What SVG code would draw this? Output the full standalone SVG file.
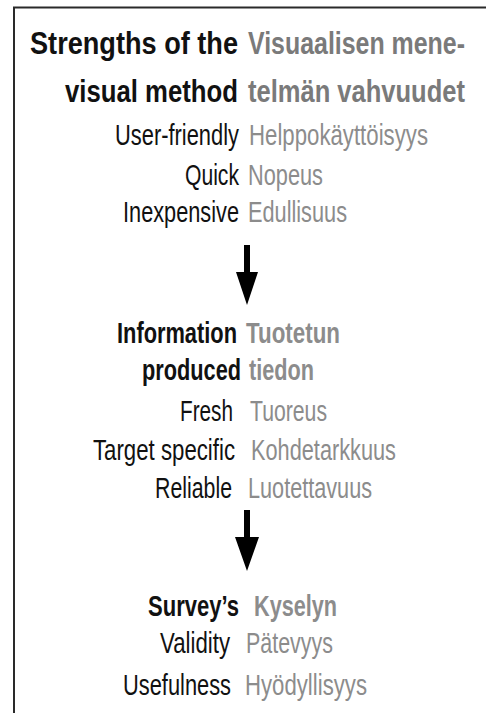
<svg xmlns="http://www.w3.org/2000/svg" width="486" height="713" viewBox="0 0 486 713">
<style>
text{font-family:"Liberation Sans Narrow","Liberation Sans",Arial,sans-serif;}
.t{font-size:31px;font-weight:bold;}
.b{font-size:30px;font-weight:bold;}
.r{font-size:29px;}
.k{fill:#111;text-anchor:end;}
.g{fill:#8c8c8c;}
.gt{fill:#7a7a7a;}
.frame{stroke:#2a2a2a;stroke-width:2;fill:none;}
.arrow{fill:#000;}
</style>
<rect x="0" y="0" width="486" height="713" fill="#fff"/>
<path class="frame" d="M14 713 V7.5 H486"/>
<g id="title">
<text class="t k" x="238" y="54" textLength="208" lengthAdjust="spacingAndGlyphs">Strengths of the</text>
<text class="t gt" x="248" y="54" textLength="217" lengthAdjust="spacingAndGlyphs">Visuaalisen mene-</text>
<text class="t k" x="238" y="102" textLength="173" lengthAdjust="spacingAndGlyphs">visual method</text>
<text class="t gt" x="248" y="102" textLength="217" lengthAdjust="spacingAndGlyphs">telmän vahvuudet</text>
</g>
<g id="strengths">
<text class="r k" x="239" y="145" textLength="124" lengthAdjust="spacingAndGlyphs">User-friendly</text>
<text class="r g" x="249" y="145" textLength="179" lengthAdjust="spacingAndGlyphs">Helppokäyttöisyys</text>
<text class="r k" x="239" y="185" textLength="54" lengthAdjust="spacingAndGlyphs">Quick</text>
<text class="r g" x="248" y="185" textLength="75" lengthAdjust="spacingAndGlyphs">Nopeus</text>
<text class="r k" x="239" y="222" textLength="116" lengthAdjust="spacingAndGlyphs">Inexpensive</text>
<text class="r g" x="248" y="222" textLength="99" lengthAdjust="spacingAndGlyphs">Edullisuus</text>
</g>
<g id="information">
<text class="b k" x="237" y="343" textLength="120" lengthAdjust="spacingAndGlyphs">Information</text>
<text class="b g" x="246" y="343" textLength="94" lengthAdjust="spacingAndGlyphs">Tuotetun</text>
<text class="b k" x="241" y="380" textLength="99" lengthAdjust="spacingAndGlyphs">produced</text>
<text class="b g" x="249" y="380" textLength="65" lengthAdjust="spacingAndGlyphs">tiedon</text>
<text class="r k" x="233" y="421" textLength="53" lengthAdjust="spacingAndGlyphs">Fresh</text>
<text class="r g" x="250" y="421" textLength="77" lengthAdjust="spacingAndGlyphs">Tuoreus</text>
<text class="r k" x="235" y="460" textLength="142" lengthAdjust="spacingAndGlyphs">Target specific</text>
<text class="r g" x="251" y="460" textLength="145" lengthAdjust="spacingAndGlyphs">Kohdetarkkuus</text>
<text class="r k" x="232" y="498" textLength="77" lengthAdjust="spacingAndGlyphs">Reliable</text>
<text class="r g" x="248" y="498" textLength="124" lengthAdjust="spacingAndGlyphs">Luotettavuus</text>
</g>
<g id="survey">
<text class="b k" x="239" y="616" textLength="91" lengthAdjust="spacingAndGlyphs">Survey’s</text>
<text class="b g" x="254" y="616" textLength="83" lengthAdjust="spacingAndGlyphs">Kyselyn</text>
<text class="r k" x="230" y="653" textLength="70" lengthAdjust="spacingAndGlyphs">Validity</text>
<text class="r g" x="246" y="653" textLength="87" lengthAdjust="spacingAndGlyphs">Pätevyys</text>
<text class="r k" x="231" y="695" textLength="108" lengthAdjust="spacingAndGlyphs">Usefulness</text>
<text class="r g" x="245" y="695" textLength="122" lengthAdjust="spacingAndGlyphs">Hyödyllisyys</text>
</g>
<g id="connectors">
<polygon class="arrow" points="244,245 250,245 250,272 258,272 247,305 236,272 244,272"/>
<polygon class="arrow" points="244,510 250,510 250,537 259,537 247,571 235,537 244,537"/>
</g>
</svg>
